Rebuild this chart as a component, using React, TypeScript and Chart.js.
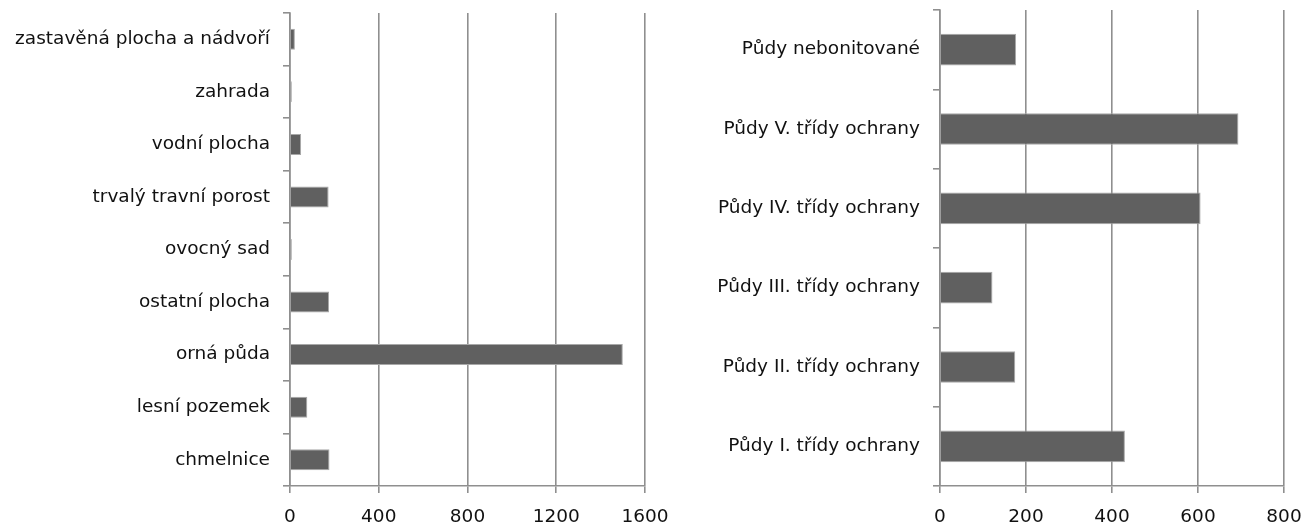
import React, { useEffect, useRef } from "react";
import { Chart, registerables } from "chart.js";

Chart.register(...registerables);

const landCategories = [
  "zastavěná plocha a nádvoří",
  "zahrada",
  "vodní plocha",
  "trvalý travní porost",
  "ovocný sad",
  "ostatní plocha",
  "orná půda",
  "lesní pozemek",
  "chmelnice",
];
const landValues = [22, 8, 50, 174, 8, 176, 1500, 78, 178];
const landTicks = [0, 400, 800, 1200, 1600];

const soilCategories = [
  "Půdy nebonitované",
  "Půdy V. třídy ochrany",
  "Půdy IV. třídy ochrany",
  "Půdy III. třídy ochrany",
  "Půdy II. třídy ochrany",
  "Půdy I. třídy ochrany",
];
const soilValues = [177, 694, 606, 122, 175, 430];
const soilTicks = [0, 200, 400, 600, 800];

const FONT = { family: "'DejaVu Sans'", size: 18.5, weight: "normal" as const };
const GRID = "#8f8f8f";
const BAR = "#606060";

function makeConfig(
  labels: string[],
  values: number[],
  ticks: number[],
  yWidth: number,
  top: number,
  right: number
): any {
  const max = ticks[ticks.length - 1];
  return {
    type: "bar",
    data: {
      labels,
      datasets: [
        {
          data: values,
          backgroundColor: BAR,
          borderColor: "#a8a8a8",
          borderWidth: 1,
          barPercentage: 0.4,
          categoryPercentage: 1,
        },
      ],
    },
    options: {
      indexAxis: "y",
      animation: false,
      responsive: false,
      maintainAspectRatio: false,
      layout: { padding: { top, right, left: 0, bottom: 0 } },
      plugins: { legend: { display: false }, tooltip: { enabled: false } },
      scales: {
        x: {
          min: 0,
          max,
          afterBuildTicks: (s: any) => {
            s.ticks = ticks.map((v) => ({ value: v }));
          },
          afterFit: (s: any) => {
            s.height = 40;
            s.paddingLeft = 0;
            s.paddingRight = 0;
          },
          grid: {
            color: GRID,
            lineWidth: 1.6,
            drawTicks: true,
            tickLength: 7,
            tickColor: GRID,
          },
          border: { color: GRID, width: 1.6 },
          ticks: {
            color: "#111",
            font: FONT,
            padding: 13,
            maxRotation: 0,
            callback: (v: any) => String(v),
          },
        },
        y: {
          afterFit: (s: any) => {
            s.width = yWidth;
            s.paddingTop = 0;
            s.paddingBottom = 0;
          },
          grid: {
            offset: true,
            drawOnChartArea: false,
            drawTicks: true,
            tickLength: 7,
            color: GRID,
            lineWidth: 1.6,
          },
          border: { color: GRID, width: 1.6 },
          ticks: { color: "#111", font: FONT, padding: 13 },
        },
      },
    },
  };
}

function BarPanel(props: {
  left: number;
  width: number;
  labels: string[];
  values: number[];
  ticks: number[];
  yWidth: number;
  top: number;
  right: number;
}) {
  const ref = useRef<HTMLCanvasElement>(null);
  useEffect(() => {
    if (!ref.current) return;
    const chart = new Chart(
      ref.current,
      makeConfig(props.labels, props.values, props.ticks, props.yWidth, props.top, props.right)
    );
    return () => chart.destroy();
  }, []);
  return (
    <div style={{ position: "absolute", left: props.left, top: 0, width: props.width, height: 526 }}>
      <canvas ref={ref} width={props.width} height={526} style={{ width: props.width, height: 526 }} />
    </div>
  );
}

export default function App() {
  return (
    <div style={{ position: "fixed", left: 0, top: 0, width: 1311, height: 526, background: "#fff" }}>
      <BarPanel
        left={0}
        width={670}
        labels={landCategories}
        values={landValues}
        ticks={landTicks}
        yWidth={290}
        top={13}
        right={25}
      />
      <BarPanel
        left={670}
        width={641}
        labels={soilCategories}
        values={soilValues}
        ticks={soilTicks}
        yWidth={270}
        top={10}
        right={27}
      />
    </div>
  );
}
